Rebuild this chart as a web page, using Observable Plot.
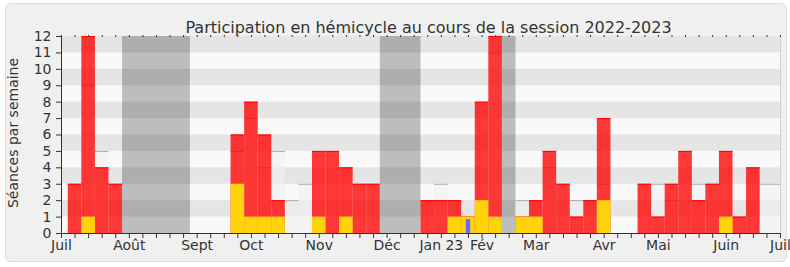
<!DOCTYPE html>
<html><head><meta charset="utf-8">
<script src="https://cdn.jsdelivr.net/npm/d3@7"></script>
<script src="https://cdn.jsdelivr.net/npm/@observablehq/plot@0.6"></script>
<style>
body{margin:0;background:#fff;font-family:"DejaVu Sans";}
#wrap{position:relative;width:790px;height:267px;}
#card{position:absolute;left:5px;top:3px;width:782px;height:259px;background:#f0f0f0;border:1px solid #dcdcdc;border-radius:6px;box-sizing:border-box;}
#chart{position:absolute;left:0;top:0;}
</style></head><body>
<div id="wrap"><div id="card"></div><div id="chart"></div></div>
<script>
const titre = "Participation en hémicycle au cours de la session 2022-2023";
const labelY = "Séances par semaine";
// index = semaine (0 = début juillet 2022, 53 = début juillet 2023)
const seances = [null,3,12,4,3,null,null,null,null,null,0,0,0,6,8,6,2,0,0,5,5,4,3,3,null,null,null,2,2,2,1,8,12,null,1,2,5,3,1,2,7,0,0,3,1,3,5,2,3,5,1,4,0,null];
const jaune   = [null,0,1,0,0,null,null,null,null,null,0,0,0,3,1,1,1,0,0,1,0,1,0,0,null,null,null,0,0,1,1,2,1,null,1,1,0,0,0,0,2,0,0,0,0,0,0,0,0,1,0,0,0,null];
const bleu    = [null,0,0,0,0,null,null,null,null,null,0,0,0,0,0,0,0,0,0,0,0,0,0,0,null,null,null,0,0,0,1,0,0,null,0,0,0,0,0,0,0,0,0,0,0,0,0,0,0,0,0,0,0,null];
const moyenne = [null,null,9,5,null,null,null,null,null,null,null,null,null,5,7,4,5,2,3,null,null,null,null,null,null,null,null,null,3,null,null,null,11,null,2,null,4,null,2,null,3,null,null,null,3,2,null,3,null,null,null,null,3,3];
const vacances = [[5,9],[24,26],[33,33]];
const moisPos = [0,5,10,14,19,24,28,31,35,40,44,49,53];
const moisLab = ["Juil","Août","Sept","Oct","Nov","Déc","Jan 23","Fév","Mar","Avr","Mai","Juin","Juil"];

const mois = new Map(moisPos.map((p,i)=>[p,moisLab[i]]));
const weeks = d3.range(54).map(i => ({semaine:i, seances:seances[i], jaune:jaune[i], bleu:bleu[i], moyenne:moyenne[i]}));
const x1 = d => d.semaine - 0.5, x2 = d => d.semaine + 0.5;
const zero = () => 0;
const moy = weeks.filter(d => d.moyenne != null);
const red = weeks.filter(d => d.seances > 0);
const yel = weeks.filter(d => d.jaune > 0);
const blu = weeks.filter(d => d.bleu > 0);

const chart = Plot.plot({
  width: 790, height: 267,
  marginLeft: 61, marginRight: 10, marginTop: 36, marginBottom: 34,
  style: {fontFamily: "DejaVu Sans", fontSize: "14px", background: "transparent", color: "#333"},
  x: {domain: [0, 53], axis: null},
  y: {domain: [0, 12], axis: null},
  marks: [
    Plot.frame({fill: "#f9f9f9", stroke: null}),
    Plot.rect(d3.range(1, 12, 2), {y1: d => d, y2: d => d + 1, fill: "#e5e5e5"}),
    Plot.rect(vacances, {x1: d => d[0] - 0.5, x2: d => d[1] + 0.5, fill: "#000", fillOpacity: 0.24}),
    Plot.rect(moy, {x1, x2, y1: zero, y2: "moyenne", fill: "#f0f0f0", fillOpacity: 0.6, clip: true}),
    Plot.ruleY(moy, {x1, x2, y: "moyenne", stroke: "#a9a9a9", clip: true}),
    Plot.rect(red, {x1, x2, y1: zero, y2: "seances", fill: "#ff0000", fillOpacity: 0.78}),
    Plot.ruleY(red, {x1, x2, y: "seances", stroke: "#ff0000"}),
    Plot.rect(yel, {x1, x2, y1: zero, y2: "jaune", fill: "#ffd30b"}),
    Plot.rect(blu, {x1: d => d.semaine - 0.16, x2: d => d.semaine + 0.16, y1: zero, y2: "bleu", fill: "#6b6bff", insetTop: 2.5}),
    Plot.ruleX([53], {stroke: "#cfcfcf"}),
    Plot.ruleX([0], {stroke: "#333"}),
    Plot.ruleY([0], {stroke: "#333"}),
    Plot.axisY({ticks: d3.range(13), tickSize: 5, tickPadding: 5, fontSize: 14, label: null, tickFormat: d => String(d)}),
    Plot.axisX({ticks: d3.range(54), tickSize: 5, tickPadding: 2, fontSize: 14, label: null, tickFormat: d => mois.get(d) ?? ""}),
    Plot.axisX({anchor: "top", ticks: d3.range(54), tickSize: 2, label: null, tickFormat: () => ""}),
    Plot.text([titre], {frameAnchor: "top", dy: -14.5, dx: 7.5, fontSize: 16, fill: "#333"}),
    Plot.text([labelY], {frameAnchor: "left", textAnchor: "middle", rotate: -90, dx: -48, dy: -2, fontSize: 14, fill: "#333"})
  ]
});
document.getElementById("chart").appendChild(chart);
</script>
</body></html>
